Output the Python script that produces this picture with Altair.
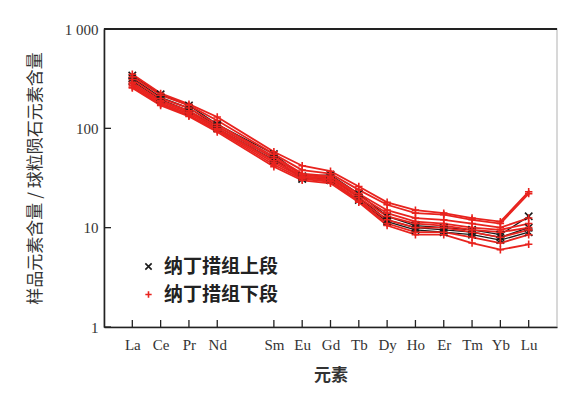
import altair as alt
import pandas as pd

elements = ["La", "Ce", "Pr", "Nd", "Pm", "Sm", "Eu", "Gd", "Tb", "Dy", "Ho", "Er", "Tm", "Yb", "Lu"]
ree = ["La", "Ce", "Pr", "Nd", "Sm", "Eu", "Gd", "Tb", "Dy", "Ho", "Er", "Tm", "Yb", "Lu"]

group_upper = "纳丁措组上段"
group_lower = "纳丁措组下段"

upper_samples = {
    "U1": [340, 220, 170, 110, 55, 33, 34, 22, 13, 10.5, 10, 9.5, 8.5, 13],
    "U2": [320, 205, 160, 105, 50, 31, 32, 20, 12, 10, 9.5, 9, 8, 10],
    "U3": [300, 195, 150, 100, 48, 32, 30, 19, 11.5, 9.5, 9, 8.5, 7.5, 9],
}
lower_samples = {
    "L1": [350, 225, 175, 130, 58, 42, 37, 26, 18, 15, 14, 12.5, 11.5, 23],
    "L2": [330, 215, 170, 120, 55, 38, 35, 24, 17, 14, 13.5, 12, 11, 22],
    "L3": [310, 200, 160, 110, 52, 35, 33, 22, 15, 12.5, 12, 11, 10, 12.5],
    "L4": [290, 190, 150, 105, 50, 34, 32, 21, 14, 11.5, 11, 10, 9.5, 11],
    "L5": [280, 185, 145, 100, 47, 33, 31, 20, 13, 11, 10.5, 9.5, 9, 10],
    "L6": [270, 180, 140, 98, 45, 32, 30, 19, 12, 10, 10, 9, 8, 9.5],
    "L7": [260, 175, 135, 95, 43, 31, 29, 18.5, 11, 9, 9, 8, 7, 8.5],
    "L8": [255, 170, 132, 92, 41, 30, 28, 18, 10.5, 8.5, 8.5, 7, 6, 6.8],
}
y_ticks = [1, 10, 100, 1000]

rows = []
for grp, samples in [(group_upper, upper_samples), (group_lower, lower_samples)]:
    for name, vals in samples.items():
        for i, (el, v) in enumerate(zip(ree, vals)):
            rows.append({"group": grp, "sample": name, "element": el, "order": i, "value": v})
df = pd.DataFrame(rows)

W, H = 453, 298
serif = "Liberation Serif"
cjk = "Noto Sans CJK SC"

x_scale = alt.Scale(domain=elements, type="point", padding=1)
y_scale = alt.Scale(type="log", domain=[1, 1000])

xpath = "M-1,-1L1,1M1,-1L-1,1"
pluspath = "M-1,0L1,0M0,-1L0,1"

color_scale = alt.Scale(domain=[group_upper, group_lower], range=["#1a1a1a", "#e8231e"])
shape_scale = alt.Scale(domain=[group_upper, group_lower], range=[xpath, pluspath])

x_enc = alt.X("element:N", scale=x_scale, sort=elements,
              axis=alt.Axis(title="元素", values=ree, ticks=False, grid=False, labelAngle=0,
                            labelFont=serif, labelFontSize=15, labelColor="#333",
                            labelPadding=10, domain=True, domainColor="#222", domainWidth=1.6,
                            titleFont=cjk, titleFontSize=17, titleFontWeight="bold",
                            titleColor="#333", titlePadding=15))
y_enc = alt.Y("value:Q", scale=y_scale,
              axis=alt.Axis(title="样品元素含量 / 球粒陨石元素含量", values=y_ticks, ticks=False,
                            grid=False, domain=True, domainColor="#222", domainWidth=1.6,
                            labelExpr="datum.value == 1000 ? '1 000' : format(datum.value, 'd')",
                            labelFont=serif, labelFontSize=15, labelColor="#333", labelPadding=6,
                            titleFont=cjk, titleFontSize=17, titleFontWeight="normal",
                            titleColor="#333", titlePadding=20))

base = alt.Chart(df)

lines_upper = base.transform_filter(alt.datum.group == group_upper).mark_line(
    color="#1a1a1a", strokeWidth=1.3).encode(
    x=x_enc, y=y_enc, detail="sample:N", order="order:Q")
lines_lower = base.transform_filter(alt.datum.group == group_lower).mark_line(
    color="#e8231e", strokeWidth=1.8).encode(
    x=x_enc, y=y_enc, detail="sample:N", order="order:Q")

leg = alt.Legend(title=None, orient="none", legendX=35, legendY=228,
                 labelFont=cjk, labelFontSize=19, labelFontWeight="bold",
                 labelColor="#222", symbolSize=40, symbolStrokeWidth=1.6,
                 rowPadding=8, labelOffset=6)

points = base.mark_point(filled=False, size=55, strokeWidth=1.6, opacity=1).encode(
    x=x_enc, y=y_enc,
    color=alt.Color("group:N", scale=color_scale, legend=leg),
    shape=alt.Shape("group:N", scale=shape_scale, legend=leg),
    order=alt.Order("group:N", sort="ascending"),
)

ytick_df = pd.DataFrame({"v": y_ticks})
yticks = alt.Chart(ytick_df).mark_rule(color="#222", strokeWidth=1.3).encode(
    y=alt.Y("v:Q", scale=y_scale), x=alt.value(0), x2=alt.value(7))

xtick_df = pd.DataFrame({"el": ree})
xticks = alt.Chart(xtick_df).mark_rule(color="#222", strokeWidth=1.3).encode(
    x=alt.X("el:N", scale=x_scale), y=alt.value(H), y2=alt.value(H - 7))

top_border = alt.Chart(ytick_df).mark_rule(color="#222", strokeWidth=1.6).encode(
    x=alt.value(0), x2=alt.value(W), y=alt.value(0))

chart = alt.layer(lines_upper, lines_lower, points, yticks, xticks, top_border).properties(
    width=W, height=H,
    background="white",
    autosize=alt.AutoSizeParams(type="none"),
    padding={"left": 96, "top": 21, "right": 4, "bottom": 66},
).configure_view(stroke="#cccccc", strokeWidth=1.5)

chart.save("out.html", embed_options={"renderer": "svg", "actions": False})
